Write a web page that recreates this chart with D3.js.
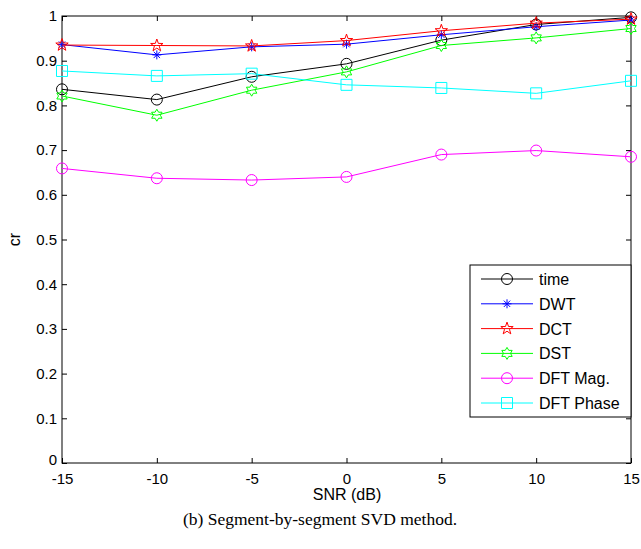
<!DOCTYPE html>
<html>
<head>
<meta charset="utf-8">
<script src="https://cdn.jsdelivr.net/npm/d3@7"></script>
<style>
  html, body { margin: 0; padding: 0; background: #fff; }
  svg { display: block; }
  text { font-family: "Liberation Sans", Arial, Helvetica, sans-serif; }
</style>
</head>
<body>
<svg id="chart" width="641" height="549"></svg>
<script>
// SNR levels (dB) and compression ratio per transform
const snr = [-15, -10, -5, 0, 5, 10, 15];
const xTicks = [-15, -10, -5, 0, 5, 10, 15];
const yTicks = [0, 0.1, 0.2, 0.3, 0.4, 0.5, 0.6, 0.7, 0.8, 0.9, 1];

const timeVals     = [0.836, 0.813, 0.864, 0.893, 0.946, 0.981, 0.997];
const dwtVals      = [0.936, 0.913, 0.931, 0.937, 0.958, 0.976, 0.991];
const dctVals      = [0.935, 0.934, 0.933, 0.945, 0.967, 0.984, 0.993];
const dstVals      = [0.821, 0.778, 0.834, 0.875, 0.934, 0.951, 0.972];
const dftMagVals   = [0.659, 0.637, 0.633, 0.640, 0.690, 0.699, 0.685];
const dftPhaseVals = [0.877, 0.866, 0.871, 0.846, 0.839, 0.827, 0.855];

const seriesNames  = ["time", "DWT", "DCT", "DST", "DFT Mag.", "DFT Phase"];
const seriesColors = ["#000000", "#0000ff", "#ff0000", "#00ff00", "#ff00ff", "#00ffff"];
const seriesMarks  = ["circle", "asterisk", "pentagram", "hexagram", "circle", "square"];
const seriesVals   = [timeVals, dwtVals, dctVals, dstVals, dftMagVals, dftPhaseVals];

const svg = d3.select("#chart");
const L = 62, R = 631, T = 16, B = 463;

const x = d3.scaleLinear().domain([-15, 15]).range([L, R]);
const y = d3.scaleLinear().domain([0, 1]).range([B, T]);

// marker shapes as path strings centred at 0,0
function starPath(n, ro, ri) {
  const pts = [];
  for (let i = 0; i < 2 * n; i++) {
    const r = i % 2 === 0 ? ro : ri;
    const a = -Math.PI / 2 + i * Math.PI / n;
    pts.push([r * Math.cos(a), r * Math.sin(a)]);
  }
  return "M" + pts.map(p => p[0].toFixed(2) + "," + p[1].toFixed(2)).join("L") + "Z";
}
function markerPath(kind) {
  switch (kind) {
    case "circle": return d3.arc()({innerRadius: 0, outerRadius: 5.5, startAngle: 0, endAngle: 2 * Math.PI});
    case "square": return "M-5.5,-5.5H5.5V5.5H-5.5Z";
    case "pentagram": return starPath(5, 6.5, 2.6);
    case "hexagram": return starPath(6, 6, 3.5);
    case "asterisk": {
      const r = 4.5, d = r * 0.7071;
      return `M0,${-r}V${r}M${-r},0H${r}M${-d},${-d}L${d},${d}M${-d},${d}L${d},${-d}`;
    }
  }
}

// plot frame and ticks
const axisG = svg.append("g");
axisG.append("rect").attr("x", L).attr("y", T).attr("width", R - L).attr("height", B - T)
  .attr("fill", "none").attr("stroke", "#000").attr("stroke-width", 1);

const xAxis = d3.axisBottom(x).tickValues(xTicks).tickSize(-5).tickPadding(10).tickFormat(d => String(d));
const xg = axisG.append("g").attr("transform", `translate(0,${B})`).call(xAxis);
const xgTop = axisG.append("g").attr("transform", `translate(0,${T})`)
  .call(d3.axisTop(x).tickValues(xTicks).tickSize(-5).tickFormat(""));
const yAxis = d3.axisLeft(y).tickValues(yTicks).tickSize(-5).tickPadding(5)
  .tickFormat(d => d === 0 || d === 1 ? String(d) : d.toFixed(1));
const yg = axisG.append("g").attr("transform", `translate(${L},0)`).call(yAxis);
const ygRight = axisG.append("g").attr("transform", `translate(${R},0)`)
  .call(d3.axisRight(y).tickValues(yTicks).tickSize(-5).tickFormat(""));

[xg, xgTop, yg, ygRight].forEach(g => {
  g.select(".domain").remove();
  g.selectAll(".tick line").attr("stroke", "#000");
  g.selectAll("text").attr("fill", "#000").style("font-size", "15px").attr("font-family", null);
});
// the corner "0" sits just above the "-15" label
yg.selectAll(".tick").filter(d => d === 0).select("text").attr("dy", "0.1em");

// axis titles and caption
svg.append("text").attr("x", 347).attr("y", 500).attr("text-anchor", "middle")
  .style("font-size", "16px").text("SNR (dB)");
svg.append("text").attr("transform", `translate(20,${(T + B) / 2}) rotate(-90)`)
  .attr("text-anchor", "middle").style("font-size", "16px").text("cr");
svg.append("text").attr("x", 320).attr("y", 525).attr("text-anchor", "middle")
  .style("font-family", "'Liberation Serif', 'Times New Roman', serif").style("font-size", "17.5px")
  .text("(b) Segment-by-segment SVD method.");

// data lines with markers
const line = d3.line().x((d, i) => x(snr[i])).y(d => y(d));
const plotG = svg.append("g");
seriesVals.forEach((vals, k) => {
  const g = plotG.append("g");
  g.append("path").attr("d", line(vals)).attr("fill", "none")
    .attr("stroke", seriesColors[k]).attr("stroke-width", 1);
  g.selectAll("path.mk").data(vals).enter().append("path").attr("class", "mk")
    .attr("transform", (d, i) => `translate(${x(snr[i])},${y(d)})`)
    .attr("d", markerPath(seriesMarks[k]))
    .attr("fill", "none").attr("stroke", seriesColors[k]).attr("stroke-width", 1);
});

// legend
const lg = svg.append("g");
lg.append("rect").attr("x", 470).attr("y", 265).attr("width", 161).attr("height", 152)
  .attr("fill", "#fff").attr("stroke", "#000").attr("stroke-width", 1);
const legY = d3.scalePoint().domain(seriesNames).range([279, 403]);
seriesNames.forEach((name, k) => {
  const yy = legY(name);
  lg.append("line").attr("x1", 481).attr("x2", 533).attr("y1", yy).attr("y2", yy)
    .attr("stroke", seriesColors[k]).attr("stroke-width", 1);
  lg.append("path").attr("transform", `translate(507,${yy})`).attr("d", markerPath(seriesMarks[k]))
    .attr("fill", "none").attr("stroke", seriesColors[k]).attr("stroke-width", 1);
  lg.append("text").attr("x", 539).attr("y", yy + 6).style("font-size", "16px").text(name);
});
</script>
</body>
</html>
